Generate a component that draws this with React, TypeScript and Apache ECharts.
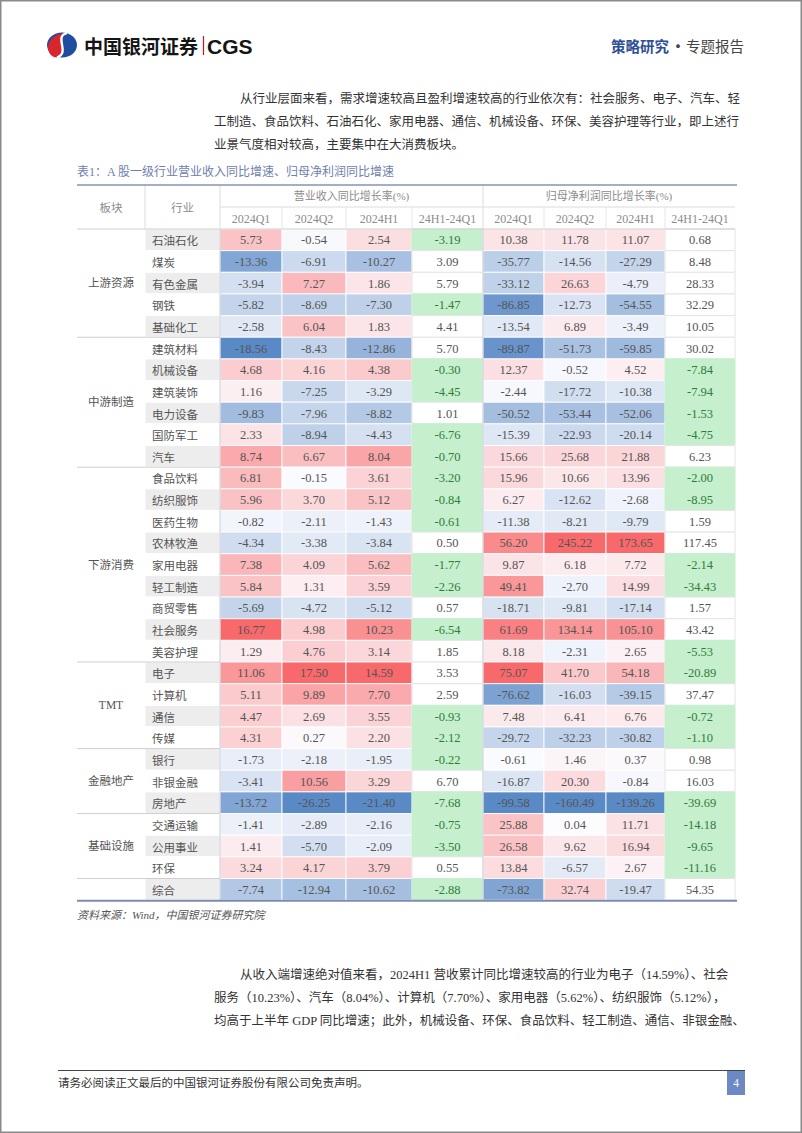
import React, { useEffect, useRef } from "react";
import * as echarts from "echarts";

// ---------------- data ----------------
const sectorNames = ["上游资源", "中游制造", "下游消费", "TMT", "金融地产", "基础设施", ""];
const sectorSizes = [5, 6, 9, 4, 3, 3, 1];
const industries = [
  "石油石化", "煤炭", "有色金属", "钢铁", "基础化工",
  "建筑材料", "机械设备", "建筑装饰", "电力设备", "国防军工", "汽车",
  "食品饮料", "纺织服饰", "医药生物", "农林牧渔", "家用电器", "轻工制造", "商贸零售", "社会服务", "美容护理",
  "电子", "计算机", "通信", "传媒",
  "银行", "非银金融", "房地产",
  "交通运输", "公用事业", "环保",
  "综合",
];
const revQ1 = [5.73, -13.36, -3.94, -5.82, -2.58, -18.56, 4.68, 1.16, -9.83, 2.33, 8.74, 6.81, 5.96, -0.82, -4.34, 7.38, 5.84, -5.69, 16.77, 1.29, 11.06, 5.11, 4.47, 4.31, -1.73, -3.41, -13.72, -1.41, 1.41, 3.24, -7.74];
const revQ2 = [-0.54, -6.91, 7.27, -8.69, 6.04, -8.43, 4.16, -7.25, -7.96, -8.94, 6.67, -0.15, 3.70, -2.11, -3.38, 4.09, 1.31, -4.72, 4.98, 4.76, 17.50, 9.89, 2.69, 0.27, -2.18, 10.56, -26.25, -2.89, -5.70, 4.17, -12.94];
const revH1 = [2.54, -10.27, 1.86, -7.30, 1.83, -12.86, 4.38, -3.29, -8.82, -4.43, 8.04, 3.61, 5.12, -1.43, -3.84, 5.62, 3.59, -5.12, 10.23, 3.14, 14.59, 7.70, 3.55, 2.20, -1.95, 3.29, -21.40, -2.16, -2.09, 3.79, -10.62];
const revDiff = [-3.19, 3.09, 5.79, -1.47, 4.41, 5.70, -0.30, -4.45, 1.01, -6.76, -0.70, -3.20, -0.84, -0.61, 0.50, -1.77, -2.26, 0.57, -6.54, 1.85, 3.53, 2.59, -0.93, -2.12, -0.22, 6.70, -7.68, -0.75, -3.50, 0.55, -2.88];
const profQ1 = [10.38, -35.77, -33.12, -86.85, -13.54, -89.87, 12.37, -2.44, -50.52, -15.39, 15.66, 15.96, 6.27, -11.38, 56.20, 9.87, 49.41, -18.71, 61.69, 8.18, 75.07, -76.62, 7.48, -29.72, -0.61, -16.87, -99.58, 25.88, 26.58, 13.84, -73.82];
const profQ2 = [11.78, -14.56, 26.63, -12.73, 6.89, -51.73, -0.52, -17.72, -53.44, -22.93, 25.68, 10.66, -12.62, -8.21, 245.22, 6.18, -2.70, -9.81, 134.14, -2.31, 41.70, -16.03, 6.41, -32.23, 1.46, 20.30, -160.49, 0.04, 9.62, -6.57, 32.74];
const profH1 = [11.07, -27.29, -4.79, -54.55, -3.49, -59.85, 4.52, -10.38, -52.06, -20.14, 21.88, 13.96, -2.68, -9.79, 173.65, 7.72, 14.99, -17.14, 105.10, 2.65, 54.18, -39.15, 6.76, -30.82, 0.37, -0.84, -139.26, 11.71, 16.94, 2.67, -19.47];
const profDiff = [0.68, 8.48, 28.33, 32.29, 10.05, 30.02, -7.84, -7.94, -1.53, -4.75, 6.23, -2.00, -8.95, 1.59, 117.45, -2.14, -34.43, 1.57, 43.42, -5.53, -20.89, 37.47, -0.72, -1.10, 0.98, 16.03, -39.69, -14.18, -9.65, -11.16, 54.35];

const headLeft = ["板块", "行业"];
const groupHeads = ["营业收入同比增长率(%)", "归母净利润同比增长率(%)"];
const subHeads = ["2024Q1", "2024Q2", "2024H1", "24H1-24Q1"];

const para1 = [
  "从行业层面来看，需求增速较高且盈利增速较高的行业依次有：社会服务、电子、汽车、轻",
  "工制造、食品饮料、石油石化、家用电器、通信、机械设备、环保、美容护理等行业，即上述行",
  "业景气度相对较高，主要集中在大消费板块。",
];
const para2 = [
  "从收入端增速绝对值来看，2024H1 营收累计同比增速较高的行业为电子（14.59%）、社会",
  "服务（10.23%）、汽车（8.04%）、计算机（7.70%）、家用电器（5.62%）、纺织服饰（5.12%），",
  "均高于上半年 GDP 同比增速；此外，机械设备、环保、食品饮料、轻工制造、通信、非银金融、",
];
const titleText = "表1：A 股一级行业营业收入同比增速、归母净利润同比增速";
const sourceText = "资料来源：Wind，中国银河证券研究院";
const footerText = "请务必阅读正文最后的中国银河证券股份有限公司免责声明。";
const pageNo = "4";

// ---------------- layout / style ----------------
const W = 802;
const H = 1133;
const COLX = [77, 145, 220, 282, 346, 412, 483, 544, 606, 665, 735];
const HEAD_TOP = 185;
const HEAD_MID = 207;
const TOP = 229;
const ROWH = 21.65;
const BOTTOM = TOP + ROWH * industries.length;

const FONT_CJK = "'Noto Sans CJK SC', sans-serif";
const FONT_MIX = "'Liberation Serif', 'Noto Sans CJK SC', serif";

const RED = [248, 105, 107];
const MID = [252, 252, 255];
const BLUE = [90, 138, 198];
const GREEN_FILL = "#C6EFCE";
const GREEN_TEXT = "#2E7D3A";

function mix(a: number[], b: number[], t: number) {
  const c = a.map((v, i) => Math.round(v + (b[i] - v) * t));
  return `rgb(${c[0]},${c[1]},${c[2]})`;
}
function heat(v: number, max: number, min: number, g: number) {
  if (v >= 0) return mix(MID, RED, Math.pow(max > 0 ? v / max : 0, g));
  return mix(MID, BLUE, Math.pow(min < 0 ? v / min : 0, g));
}

const dataCols = [revQ1, revQ2, revH1, revDiff, profQ1, profQ2, profH1, profDiff];
const isDiff = [false, false, false, true, false, false, false, true];
const gammas = [0.9, 0.9, 0.9, 1, 0.9, 0.6, 0.65, 1];

echarts.graphic.registerShape(
  "cgsRed",
  echarts.graphic.extendPath("M20 0.8 C6 4 24 20 10 25.2 C-4 24 -2 0 20 0.8 Z", {})
);

function txt(text: string, x: number, y: number, o: any = {}) {
  const align = o.align || "left";
  return {
    type: "text",
    x,
    y,
    z: 50,
    silent: true,
    style: {
      text,
      fill: o.fill || "#333",
      fontSize: o.size || 12,
      fontFamily: o.family || FONT_MIX,
      fontWeight: o.weight || "normal",
      fontStyle: o.style || "normal",
      align,
      textAlign: align,
      verticalAlign: "middle",
      textVerticalAlign: "middle",
    },
  };
}
function ln(x1: number, y1: number, x2: number, y2: number, color: string, w: number) {
  return { type: "line", z: 60, silent: true, shape: { x1, y1, x2, y2 }, style: { stroke: color, lineWidth: w } };
}

type Cell = { fill: string; stroke: string; lw: number; text: string; color: string; left: boolean; family: string; size: number };

function cellSeries(c: number, values: number[], cells: Cell[]) {
  return {
    type: "custom",
    xAxisIndex: c,
    yAxisIndex: c,
    silent: true,
    encode: { x: 0, y: 1 },
    data: values.map((v, i) => [0, i, v]),
    renderItem: (params: any, api: any) => {
      const cell = cells[params.dataIndex];
      const p = api.coord([0, api.value(1)]);
      const s = api.size([1, 1]);
      const x0 = p[0] - s[0] / 2;
      const y0 = p[1] - s[1] / 2;
      return {
        type: "group",
        children: [
          {
            type: "rect",
            shape: { x: x0, y: y0, width: s[0], height: s[1] },
            style: { fill: cell.fill, stroke: cell.stroke, lineWidth: cell.lw },
          },
          {
            type: "text",
            x: cell.left ? x0 + 7 : p[0],
            y: p[1] + 0.5,
            style: {
              text: cell.text,
              fill: cell.color,
              fontSize: cell.size,
              fontFamily: cell.family,
              align: cell.left ? "left" : "center",
              textAlign: cell.left ? "left" : "center",
              verticalAlign: "middle",
              textVerticalAlign: "middle",
            },
          },
        ],
      };
    },
  };
}

function buildOption() {
  const grid: any[] = [];
  const xAxis: any[] = [];
  const yAxis: any[] = [];
  const series: any[] = [];
  for (let c = 0; c < 9; c++) {
    grid.push({ left: COLX[c + 1], width: COLX[c + 2] - COLX[c + 1], top: TOP, height: BOTTOM - TOP });
    xAxis.push({ type: "category", gridIndex: c, data: [c === 0 ? headLeft[1] : subHeads[(c - 1) % 4]], show: false });
    yAxis.push({ type: "category", gridIndex: c, data: industries, inverse: true, show: false });
  }
  const indCells: Cell[] = industries.map((n, i) => ({
    fill: i % 2 === 0 ? "#EDEDED" : "#FFFFFF",
    stroke: "#FFFFFF",
    lw: 1,
    text: n,
    color: "#555",
    left: true,
    family: FONT_CJK,
    size: 11.5,
  }));
  series.push(cellSeries(0, industries.map(() => 0), indCells));
  dataCols.forEach((col, c) => {
    const max = Math.max(...col);
    const min = Math.min(...col);
    const cells: Cell[] = col.map((v) => {
      if (isDiff[c]) {
        const neg = v < 0;
        return {
          fill: neg ? GREEN_FILL : "#FFFFFF",
          stroke: neg ? GREEN_FILL : "#E4E4E4",
          lw: 1,
          text: v.toFixed(2),
          color: neg ? GREEN_TEXT : "#555",
          left: false,
          family: FONT_MIX,
          size: 12.5,
        };
      }
      return {
        fill: heat(v, max, min, gammas[c]),
        stroke: "rgba(255,255,255,0.85)",
        lw: 1,
        text: v.toFixed(2),
        color: "#555",
        left: false,
        family: FONT_MIX,
        size: 12.5,
      };
    });
    series.push(cellSeries(c + 1, col, cells));
  });
  return {
    animation: false,
    backgroundColor: "#ffffff",
    grid,
    xAxis,
    yAxis,
    series,
  };
}

function buildGraphics(chart: any) {
  const g: any[] = [];
  // page frame
  g.push({ type: "rect", z: 70, silent: true, shape: { x: 0.75, y: 0.75, width: W - 1.5, height: H - 1.5 }, style: { fill: "none", stroke: "#8a8a8a", lineWidth: 1.5 } });

  // logo
  g.push({ type: "ellipse", z: 40, silent: true, shape: { cx: 62, cy: 45, rx: 15, ry: 12.6 }, style: { fill: "#1F4E9E" } });
  g.push({ type: "cgsRed", z: 41, silent: true, x: 47, y: 32.4, style: { fill: "#D9262C" } });
  g.push({ type: "bezierCurve", z: 42, silent: true, x: 47, y: 32.4, shape: { x1: 20, y1: 0.8, cpx1: 6, cpy1: 4, cpx2: 24, cpy2: 20, x2: 10, y2: 25.2 }, style: { stroke: "#fff", lineWidth: 2.4, fill: "none" } });
  g.push(txt("中国银河证券", 84, 45.5, { size: 19, weight: "bold", family: FONT_CJK, fill: "#151515" }));
  g.push(ln(203.5, 36, 203.5, 55, "#C8161E", 1.2));
  g.push(txt("CGS", 207, 46, { size: 21, weight: "bold", family: "'Liberation Sans', Arial, sans-serif", fill: "#151515" }));

  // header right
  g.push(txt("策略研究", 611, 45, { size: 14.5, weight: "bold", family: FONT_CJK, fill: "#2E4F95" }));
  g.push(txt("·", 678, 45, { size: 14.5, weight: "bold", family: FONT_CJK, fill: "#444", align: "center" }));
  g.push(txt("专题报告", 744, 45, { size: 14.5, family: FONT_CJK, fill: "#444", align: "right" }));

  // paragraph 1
  const p1y = [99, 122, 145];
  para1.forEach((s, i) => g.push(txt(s, i === 0 ? 240 : 214, p1y[i], { size: 12.5, fill: "#333" })));

  // table title
  g.push(txt(titleText, 77, 172, { size: 12, fill: "#6F80AD" }));

  // header texts
  const hc = "#8C8C8C";
  g.push(txt(headLeft[0], (COLX[0] + COLX[1]) / 2, HEAD_TOP + (TOP - HEAD_TOP) / 2, { size: 11.5, family: FONT_CJK, fill: hc, align: "center" }));
  g.push(txt(headLeft[1], (COLX[1] + COLX[2]) / 2, HEAD_TOP + (TOP - HEAD_TOP) / 2, { size: 11.5, family: FONT_CJK, fill: hc, align: "center" }));
  g.push(txt(groupHeads[0], (COLX[2] + COLX[6]) / 2, (HEAD_TOP + HEAD_MID) / 2, { size: 11, fill: hc, align: "center" }));
  g.push(txt(groupHeads[1], (COLX[6] + COLX[10]) / 2, (HEAD_TOP + HEAD_MID) / 2, { size: 11, fill: hc, align: "center" }));
  for (let c = 0; c < 8; c++) {
    g.push(txt(subHeads[c % 4], (COLX[c + 2] + COLX[c + 3]) / 2, (HEAD_MID + TOP) / 2 + 0.5, { size: 12, fill: hc, align: "center" }));
  }

  // header lines
  const lc = "#DCDCDC";
  g.push(ln(COLX[2], HEAD_MID, COLX[10], HEAD_MID, lc, 1));
  g.push(ln(COLX[0], TOP, COLX[10], TOP, "#CFCFCF", 1));
  [COLX[1], COLX[2], COLX[6]].forEach((x) => g.push(ln(x, HEAD_TOP, x, TOP, lc, 1)));
  [3, 4, 5, 7, 8, 9].forEach((k) => g.push(ln(COLX[k], HEAD_MID, COLX[k], TOP, "#E6E6E6", 1)));
  g.push(ln(COLX[0], HEAD_TOP, COLX[10] + 2, HEAD_TOP, "#8793B5", 1.5));

  // data verticals
  g.push(ln(COLX[2], TOP, COLX[2], BOTTOM, "#C9CDD8", 1));
  g.push(ln(COLX[6], TOP, COLX[6], BOTTOM, "#C9CDD8", 1));

  // sector labels and separators
  const y0 = chart.convertToPixel({ yAxisIndex: 0 }, 0);
  const y1 = chart.convertToPixel({ yAxisIndex: 0 }, 1);
  const band = y1 - y0;
  let start = 0;
  sectorNames.forEach((name, k) => {
    const n = sectorSizes[k];
    const a = chart.convertToPixel({ yAxisIndex: 0 }, start);
    const b = chart.convertToPixel({ yAxisIndex: 0 }, start + n - 1);
    if (name) {
      g.push(txt(name, (COLX[0] + COLX[1]) / 2, (a + b) / 2, { size: 11.5, fill: "#555", align: "center" }));
    }
    if (k < sectorNames.length - 1) {
      const yy = b + band / 2;
      g.push(ln(COLX[0], yy, COLX[2], yy, "#CFCFCF", 1));
    }
    start += n;
  });

  // bottom line
  g.push(ln(COLX[0], BOTTOM + 0.5, COLX[10] + 2, BOTTOM + 0.5, "#7D8BB4", 2));

  // source
  g.push(txt(sourceText, 77, 915, { size: 11, fill: "#555", style: "italic" }));

  // paragraph 2
  const p2y = [975, 998, 1021];
  para2.forEach((s, i) => g.push(txt(s, i === 0 ? 240 : 214, p2y[i], { size: 12.5, fill: "#333" })));

  // footer
  g.push(ln(58, 1070.5, 745, 1070.5, "#444", 1));
  g.push(txt(footerText, 58, 1083, { size: 11.5, fill: "#333" }));
  g.push({ type: "rect", z: 50, silent: true, shape: { x: 727, y: 1071, width: 18, height: 24 }, style: { fill: "#6E88C3" } });
  g.push(txt(pageNo, 736, 1083, { size: 11.5, fill: "#fff", align: "center" }));
  return g;
}

export default function App() {
  const ref = useRef<HTMLDivElement>(null);
  useEffect(() => {
    document.body.style.margin = "0";
    const chart = echarts.init(ref.current!, null, { renderer: "svg", width: W, height: H });
    chart.setOption(buildOption());
    chart.setOption({ graphic: { elements: buildGraphics(chart) } });
    return () => chart.dispose();
  }, []);
  return <div ref={ref} style={{ width: W, height: H, background: "#fff" }} />;
}
